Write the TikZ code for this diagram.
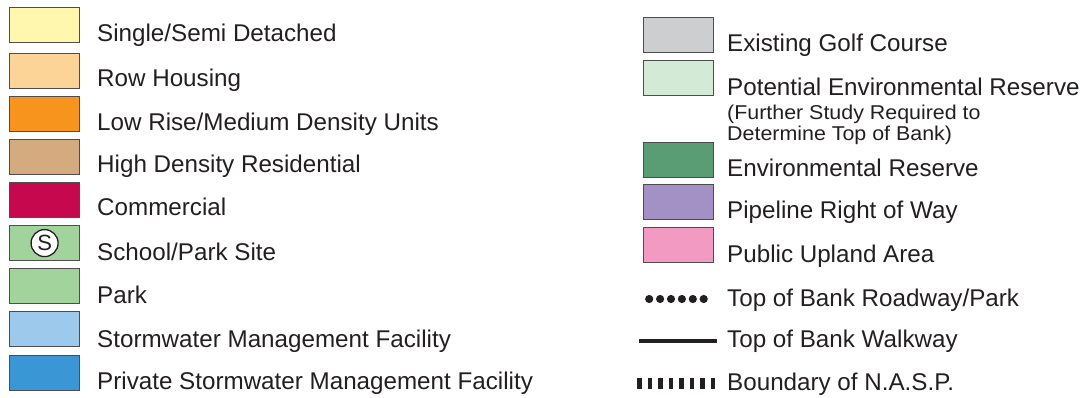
\documentclass[tikz,border=0pt]{standalone}
\usepackage{fontspec}
\setmainfont{Liberation Sans}
\newfontfamily\widefam[FakeStretch=1.07]{Liberation Sans}
\newcommand{\swx}{9}
\newcommand{\rsx}{643}
\newcommand{\ltx}{97}
\newcommand{\rtx}{727}
\definecolor{ink}{HTML}{231F20}
\definecolor{cSingle}{HTML}{FFF7AE}
\definecolor{cRow}{HTML}{FDD497}
\definecolor{cLowRise}{HTML}{F7941D}
\definecolor{cHighDen}{HTML}{D3AB7E}
\definecolor{cComm}{HTML}{C6084E}
\definecolor{cPark}{HTML}{A3D39C}
\definecolor{cSwm}{HTML}{9DC9EC}
\definecolor{cPswm}{HTML}{3A96D5}
\definecolor{cGolf}{HTML}{CDCED0}
\definecolor{cPer}{HTML}{D3EBD6}
\definecolor{cEr}{HTML}{5A9D74}
\definecolor{cPipe}{HTML}{A391C6}
\definecolor{cUpland}{HTML}{F39AC2}

\begin{document}
\begin{tikzpicture}[x=1pt,y=-1pt,
    swatch/.style={draw=ink!80, line width=1.2pt, minimum width=70pt, minimum height=35pt, inner sep=0pt, anchor=north west},
    lbl/.style={anchor=base west, inner sep=0pt, text=ink, font=\fontsize{24.2}{28}\selectfont},
    small/.style={anchor=base west, inner sep=0pt, text=ink, font=\widefam\fontsize{20}{24}\selectfont}]
        \useasboundingbox (0,0) rectangle (1087,398);

        % Left column swatches
        \node[swatch, fill=cSingle] (single) at (\swx,7) {};
        \node[swatch, fill=cRow] (row) at (\swx,53) {};
        \node[swatch, fill=cLowRise] (lowrise) at (\swx,96) {};
        \node[swatch, fill=cHighDen] (highden) at (\swx,139) {};
        \node[swatch, fill=cComm] (comm) at (\swx,182) {};
        \node[swatch, fill=cPark] (school) at (\swx,225) {};
        \node[swatch, fill=cPark] (park) at (\swx,268) {};
        \node[swatch, fill=cSwm] (swm) at (\swx,311) {};
        \node[swatch, fill=cPswm] (pswm) at (\swx,355) {};
        \node[circle, draw=ink, fill=white, line width=1.3pt, minimum size=27pt, inner sep=0pt,
              font=\fontsize{22}{24}\selectfont, text=ink] (schoolmark) at (school.center) {S};

        % Left column labels
        \node[lbl] (singletxt) at (\ltx,42) {Single/Semi Detached};
        \node[lbl] (rowtxt) at (\ltx,87) {Row Housing};
        \node[lbl] (lowrisetxt) at (\ltx,131) {Low Rise/Medium Density Units};
        \node[lbl] (highdentxt) at (\ltx,173) {High Density Residential};
        \node[lbl] (commtxt) at (\ltx,216) {Commercial};
        \node[lbl] (schooltxt) at (\ltx,260) {School/Park Site};
        \node[lbl] (parktxt) at (\ltx,303) {Park};
        \node[lbl] (swmtxt) at (\ltx,347) {Stormwater Management Facility};
        \node[lbl] (pswmtxt) at (\ltx,389) {Private Stormwater Management Facility};

        % Right column swatches
        \node[swatch, fill=cGolf] (golf) at (\rsx,17) {};
        \node[swatch, fill=cPer] (per) at (\rsx,60) {};
        \node[swatch, fill=cEr] (er) at (\rsx,142) {};
        \node[swatch, fill=cPipe] (pipe) at (\rsx,184) {};
        \node[swatch, fill=cUpland] (upland) at (\rsx,227) {};

        % Line symbols
        \foreach \i in {0,...,5}
            \fill[ink] (649.2+10.9*\i,299) circle (4.1);
        \coordinate (walkA) at (639,341);
        \coordinate (walkB) at (717,341);
        \draw[ink, line width=3.5pt] (walkA) -- (walkB);
        \coordinate (naspA) at (637,383);
        \coordinate (naspB) at (719,383);
        \draw[ink, line width=11pt, dash pattern=on 4.5pt off 6pt] (naspA) -- (naspB);

        % Right column labels
        \node[lbl] (golftxt) at (\rtx,52) {Existing Golf Course};
        \node[lbl] (pertxt) at (\rtx,96) {Potential Environmental Reserve};
        \node[small] (pertxtb) at (\rtx,120) {(Further Study Required to};
        \node[small] (pertxtc) at (\rtx,141) {Determine Top of Bank)};
        \node[lbl] (ertxt) at (\rtx,177) {Environmental Reserve};
        \node[lbl] (pipetxt) at (\rtx,219) {Pipeline Right of Way};
        \node[lbl] (uplandtxt) at (\rtx,262) {Public Upland Area};
        \node[lbl] (roadtxt) at (\rtx,306) {Top of Bank Roadway/Park};
        \node[lbl] (walktxt) at (\rtx,347) {Top of Bank Walkway};
        \node[lbl] (nasptxt) at (\rtx,390) {Boundary of N.A.S.P.};
\end{tikzpicture}
\end{document}
